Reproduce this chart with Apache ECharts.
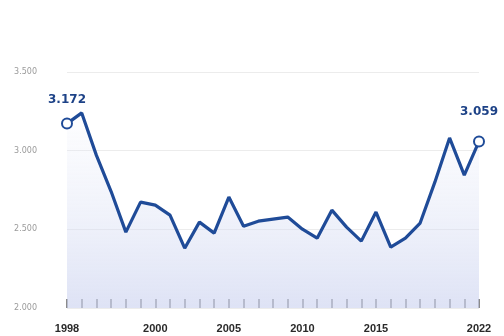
<!DOCTYPE html>
<html>
<head>
<meta charset="utf-8">
<script src="https://cdn.jsdelivr.net/npm/echarts@6/dist/echarts.min.js"></script>
<style>html,body{margin:0;padding:0;background:#fff}#c{width:504px;height:336px}</style>
</head>
<body>
<div id="c"></div>
<script>
const categories = ["1998","1998/2","1998/3","1999","1999/2","1999/3","2000","2001","2002","2003","2004","2005","2006","2007","2008","2009","2010","2011","2012","2013","2014","2015","2016","2017","2018","2019","2020","2021","2022"];
const values = [3.172,3.240,2.970,2.740,2.482,2.673,2.654,2.590,2.380,2.546,2.476,2.705,2.520,2.552,2.565,2.578,2.501,2.444,2.622,2.514,2.425,2.610,2.387,2.444,2.540,2.800,3.081,2.845,3.059];
const tickLabels = ["1998","2000","2005","2010","2015","2022"];
const yTicks = [2.0, 2.5, 3.0, 3.5];
const labeled = [0, values.length - 1];

const chart = echarts.init(document.getElementById('c'));
chart.setOption({
  animation: false,
  grid: { left: 67, right: 25, top: 72, bottom: 28 },
  xAxis: {
    type: 'category',
    data: categories,
    boundaryGap: false,
    axisLine: { show: false },
    axisTick: { show: true, inside: true, length: 9, interval: 0, lineStyle: { color: '#666', width: 1.5 } },
    axisLabel: {
      interval: 0,
      margin: 15,
      color: '#2a2a2a',
      fontSize: 11,
      fontWeight: 'bold',
      fontFamily: 'Liberation Sans',
      formatter: v => tickLabels.includes(v) ? v : ''
    },
    splitLine: { show: false }
  },
  yAxis: {
    type: 'value',
    min: yTicks[0],
    max: yTicks[yTicks.length - 1],
    interval: 0.5,
    axisLine: { show: false },
    axisTick: { show: false },
    axisLabel: {
      margin: 30,
      color: '#9a9a9a',
      fontSize: 8,
      fontFamily: 'DejaVu Sans',
      formatter: v => v.toFixed(3)
    },
    splitLine: { lineStyle: { color: '#ececec', width: 1 } }
  },
  series: [{
    type: 'line',
    data: values.map((v, i) => labeled.includes(i)
      ? { value: v, symbol: 'circle', symbolSize: 10, label: { show: true, distance: i === 0 ? 12 : 18 } }
      : { value: v, symbol: 'none' }),
    showAllSymbol: true,
    lineStyle: { color: '#1f4b98', width: 3.2 },
    itemStyle: { color: '#ffffff', borderColor: '#1f4b98', borderWidth: 2 },
    label: {
      show: false,
      position: 'top',
      color: '#1d4287',
      fontSize: 12,
      fontWeight: 'bold',
      fontFamily: 'DejaVu Sans',
      formatter: p => p.value.toFixed(3)
    },
    areaStyle: {
      color: new echarts.graphic.LinearGradient(0, 0, 0, 1, [
        { offset: 0, color: 'rgba(230,234,248,0.15)' },
        { offset: 1, color: 'rgba(205,212,240,0.95)' }
      ])
    }
  }]
});
</script>
</body>
</html>
